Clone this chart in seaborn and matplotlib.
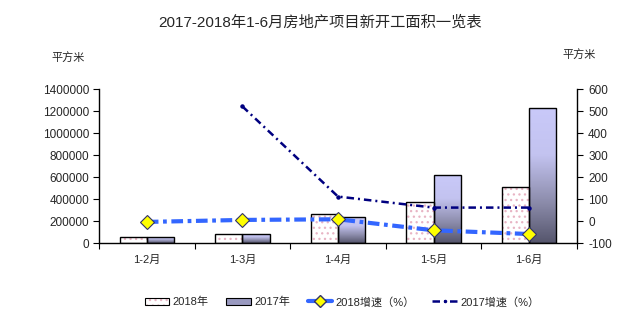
import numpy as np
import pandas as pd
import matplotlib
matplotlib.use("Agg")
import matplotlib.pyplot as plt
import seaborn as sns
from matplotlib.patches import Rectangle, Patch
from matplotlib.lines import Line2D
from matplotlib.colors import LinearSegmentedColormap

# ---- data ----
categories = ["1-2月", "1-3月", "1-4月", "1-5月", "1-6月"]
area_2018 = [57000, 85000, 264000, 373000, 509000]
area_2017 = [57000, 85000, 242000, 618000, 1227000]
growth_2018 = [-3, 6, 9, -41, -58]
growth_2017 = [np.nan, 521, 112, 62, 62]
series_names = ["2018年", "2017年"]
line_names = ["2018增速（%）", "2017增速（%）"]
left_ticks = [0, 200000, 400000, 600000, 800000, 1000000, 1200000, 1400000]
right_ticks = [-100, 0, 100, 200, 300, 400, 500, 600]
title = "2017-2018年1-6月房地产项目新开工面积一览表"
unit = "平方米"

sns.set_theme(style="white")
plt.rcParams["font.family"] = ["Liberation Sans", "Noto Sans CJK SC", "DejaVu Sans"]
plt.rcParams["hatch.linewidth"] = 0.9

PINK = "#e8b4c4"

fig = plt.figure(figsize=(6.21, 3.35), dpi=100)
ax = fig.add_axes([99 / 621, 1 - 243.3 / 335, 478 / 621, 154.3 / 335])

df = pd.DataFrame({
    "cat": categories * 2,
    "val": area_2018 + area_2017,
    "year": [series_names[0]] * 5 + [series_names[1]] * 5,
})
sns.barplot(data=df, x="cat", y="val", hue="year", order=categories,
            hue_order=series_names, width=0.57, palette=["white", "white"],
            edgecolor="black", linewidth=1.0, legend=False, ax=ax, zorder=2)

# 2018 bars: pink dotted pattern
for p in ax.containers[0]:
    p.set_edgecolor(PINK)
    p.set_hatch("...")
    p.set_linewidth(0)
    ax.add_patch(Rectangle(p.get_xy(), p.get_width(), p.get_height(),
                           fill=False, edgecolor="black", linewidth=1.0, zorder=3))

# 2017 bars: vertical gradient
cmap = LinearSegmentedColormap.from_list(
    "g", [(0, "#c9c9f9"), (0.35, "#c3c3f0"), (0.7, "#8c8cab"), (1, "#55556c")])
grad = np.linspace(0, 1, 256).reshape(-1, 1)
for p in ax.containers[1]:
    x0, y0 = p.get_xy()
    w, h = p.get_width(), p.get_height()
    p.set_facecolor("none")
    im = ax.imshow(grad, cmap=cmap, aspect="auto",
                   extent=[x0, x0 + w, y0, y0 + h], origin="upper", zorder=1.5)
    im.set_clip_path(p)
ax.set_xlim(-0.5, len(categories) - 0.5)
ax.set_ylim(left_ticks[0], left_ticks[-1])

ax.set_yticks(left_ticks)
ax.set_yticklabels([str(t) for t in left_ticks], fontsize=8.5)
ax.set_xticks(np.arange(-0.5, len(categories), 1.0), minor=True)
ax.tick_params(axis="x", which="major", length=0, pad=8)
ax.tick_params(axis="x", which="minor", length=4, width=0.8, color="black", direction="out", bottom=True)
ax.tick_params(axis="y", length=4, width=0.8, color="black", direction="out", left=True, pad=3)
ax.set_xlabel("")
ax.set_ylabel("")
for s in ["top", "right"]:
    ax.spines[s].set_visible(False)
for s in ["left", "bottom"]:
    ax.spines[s].set_color("black")
    ax.spines[s].set_linewidth(1.0)

# ---- lines on right axis ----
ax2 = ax.twinx()
gdf = pd.DataFrame({"cat": categories, "g18": growth_2018, "g17": growth_2017})
sns.pointplot(data=gdf, x="cat", y="g17", order=categories, color="#000080",
              errorbar=None, markers="o", ax=ax2)
sns.pointplot(data=gdf, x="cat", y="g18", order=categories, color="#3366ff",
              errorbar=None, markers="D", ax=ax2)
l17, l18 = ax2.lines[0], ax2.lines[1]
DASH17 = (0, (3.0, 1.6, 0.8, 1.6))
l17.set_linewidth(1.8)
l17.set_linestyle(DASH17)
l17.set_markersize(1.2)
l17.set_markerfacecolor("#000080")
l17.set_markeredgecolor("#000080")
l17.set_zorder(4)
DASH18 = (0, (2.8, 1.1, 0.9, 1.1))
l18.set_linewidth(3.0)
l18.set_linestyle(DASH18)
l18.set_markersize(7)
l18.set_markerfacecolor("#ffff00")
l18.set_markeredgecolor("#333366")
l18.set_markeredgewidth(0.8)
l18.set_zorder(5)

ax2.set_ylim(right_ticks[0], right_ticks[-1])
ax2.set_yticks(right_ticks)
ax2.set_yticklabels([str(t) for t in right_ticks], fontsize=8.5)
ax2.set_ylabel("")
ax2.set_xlabel("")
ax2.set_xlim(-0.5, len(categories) - 0.5)
ax2.tick_params(axis="y", length=4, width=0.8, color="black", direction="out", right=True, pad=4)
for s in ["top", "left", "bottom"]:
    ax2.spines[s].set_visible(False)
ax2.spines["right"].set_color("black")
ax2.spines["right"].set_linewidth(1.0)
ax.set_xticks(range(len(categories)))
ax.set_xticklabels(categories, fontsize=8)

# ---- texts ----
fig.text(320 / 621, 1 - 22 / 335, title, ha="center", va="center", fontsize=11)
fig.text(68 / 621, 1 - 57 / 335, unit, ha="center", va="center", fontsize=8)
fig.text(579 / 621, 1 - 54 / 335, unit, ha="center", va="center", fontsize=8)

# ---- legend ----
handles = [
    (Patch(facecolor="white", edgecolor=PINK, hatch="...", linewidth=0),
     Patch(fill=False, edgecolor="black", linewidth=0.8)),
    Patch(facecolor="#9a9ac0", edgecolor="black", linewidth=0.8),
    Line2D([], [], color="#3366ff", lw=3, marker="D", markersize=6,
           markerfacecolor="#ffff00", markeredgecolor="#333366"),
    Line2D([], [], color="#000080", lw=1.8, linestyle=DASH17,
           marker="o", markersize=1.5),
]
leg = fig.legend(handles, series_names + line_names, loc="center",
                 bbox_to_anchor=(342 / 621, 1 - 302 / 335), ncol=4, frameon=False,
                 fontsize=8, handlelength=2.2, handletextpad=0.3, columnspacing=1.6)

fig.savefig("out.png", dpi=100)
